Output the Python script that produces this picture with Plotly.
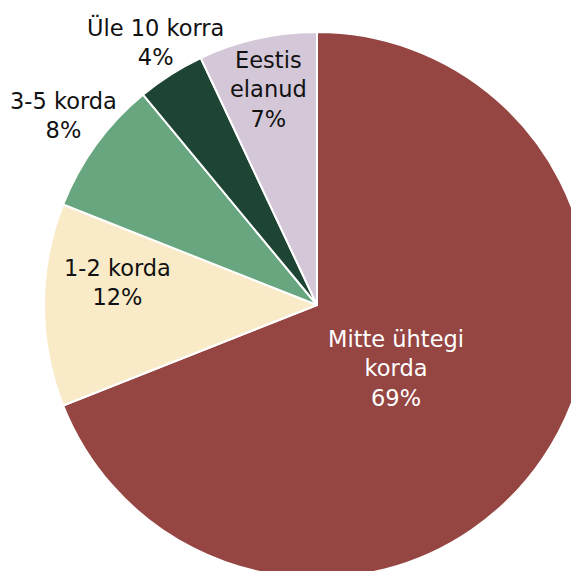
import plotly.graph_objects as go

labels = ["Mitte ühtegi<br>korda", "1-2 korda", "3-5 korda", "Üle 10 korra", "Eestis<br>elanud"]
values = [69, 12, 8, 4, 7]
colors = ["#954542", "#FAEBC8", "#67A67F", "#1E4433", "#D4C7D8"]
text_colors = ["white", "#111111", "#111111", "#111111", "#111111"]
# label centres in screen pixels (x from left, y from top)
label_pos = [(396, 368), (117, 283), (63, 115), (155, 42), (268, 90)]

BODY = 8          # default page body margin
L, T, D = 36, 24, 546   # left/top margin, pie domain size
W, H = L + D, T + D

fig = go.Figure(go.Pie(
    labels=labels,
    values=values,
    sort=False,
    direction="clockwise",
    rotation=0,
    marker=dict(colors=colors, line=dict(color="white", width=2)),
    textinfo="none",
    showlegend=False,
    hoverinfo="label+percent",
))

total = sum(values)
for lab, v, col, (px, py) in zip(labels, values, text_colors, label_pos):
    fig.add_annotation(
        x=(px - BODY - L) / D, y=1 - (py - BODY - T) / D,
        xref="paper", yref="paper",
        text=f"{lab}<br>{round(100 * v / total)}%",
        showarrow=False, xanchor="center", yanchor="middle",
        font=dict(family="DejaVu Sans", size=22.5, color=col),
    )

fig.update_layout(
    width=W, height=H,
    margin=dict(l=L, r=0, t=T, b=0),
    paper_bgcolor="white",
    plot_bgcolor="white",
)

fig.write_html("out.html")
